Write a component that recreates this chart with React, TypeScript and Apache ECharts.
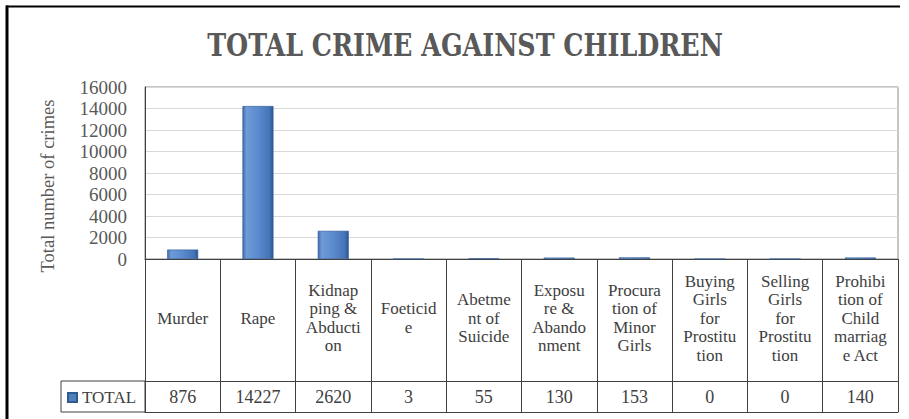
import React, { useEffect, useRef } from "react";
import * as echarts from "echarts";

const titleText = "TOTAL CRIME AGAINST CHILDREN";
const yAxisTitle = "Total number of crimes";
const seriesName = "TOTAL";
const categories = [
  "Murder",
  "Rape",
  "Kidnap\nping &\nAbducti\non",
  "Foeticid\ne",
  "Abetme\nnt of\nSuicide",
  "Exposu\nre &\nAbando\nnment",
  "Procura\ntion of\nMinor\nGirls",
  "Buying\nGirls\nfor\nProstitu\ntion",
  "Selling\nGirls\nfor\nProstitu\ntion",
  "Prohibi\ntion of\nChild\nmarriag\ne Act",
];
const totals = [876, 14227, 2620, 3, 55, 130, 153, 0, 0, 140];
const yMin = 0;
const yMax = 16000;
const yInterval = 2000;

const SERIF = "Liberation Serif";
const TITLE_FONT = "bold 31px 'DejaVu Serif Condensed'";

export default function App() {
  const ref = useRef<HTMLDivElement>(null);

  useEffect(() => {
    if (!ref.current) return;
    const chart = echarts.init(ref.current, undefined, { renderer: "svg" });

    let titleScale = 0.85;
    try {
      const ctx = document.createElement("canvas").getContext("2d");
      if (ctx) {
        ctx.font = TITLE_FONT;
        const w = ctx.measureText(titleText).width;
        if (w > 0) titleScale = 516 / w;
      }
    } catch (e) {}

    const barGradient = new echarts.graphic.LinearGradient(0, 0, 1, 0, [
      { offset: 0, color: "#3d6cab" },
      { offset: 0.12, color: "#6f9bd6" },
      { offset: 0.5, color: "#5b8bcf" },
      { offset: 0.88, color: "#4474b5" },
      { offset: 1, color: "#2b5690" },
    ]);

    chart.setOption({
      animation: false,
      backgroundColor: "#ffffff",
      textStyle: { fontFamily: SERIF },
      grid: {
        left: 145,
        right: 11,
        top: 87,
        bottom: 160,
        show: true,
        borderColor: "#8c8c8c",
        borderWidth: 1,
        containLabel: false,
      },
      legend: {
        data: [{ name: seriesName, itemStyle: { color: "#4f81bd" } }],
        left: 67,
        top: 389,
        icon: "rect",
        itemWidth: 9,
        itemHeight: 9,
        itemGap: 7,
        padding: 0,
        textStyle: { fontFamily: SERIF, fontSize: 17, color: "#404040" },
      },
      xAxis: [
        {
          type: "category",
          data: categories,
          position: "bottom",
          boundaryGap: true,
          axisLine: { show: true, lineStyle: { color: "#404040", width: 1 } },
          axisTick: { show: true, interval: 0, length: 153, lineStyle: { color: "#404040", width: 1 } },
          axisLabel: {
            interval: 0,
            margin: 59,
            verticalAlign: "middle",
            fontFamily: SERIF,
            fontSize: 17,
            lineHeight: 18.5,
            color: "#404040",
          },
          splitLine: { show: false },
        },
        {
          type: "category",
          data: categories,
          position: "bottom",
          offset: 122,
          boundaryGap: true,
          axisLine: { show: true, lineStyle: { color: "#404040", width: 1 } },
          axisTick: { show: false },
          axisLabel: {
            interval: 0,
            margin: 16,
            verticalAlign: "middle",
            fontFamily: SERIF,
            fontSize: 18,
            color: "#404040",
            formatter: (_v: string, idx: number) => String(totals[idx]),
          },
          splitLine: { show: false },
        },
        {
          type: "category",
          data: categories,
          position: "bottom",
          offset: 153,
          boundaryGap: true,
          axisLine: { show: true, lineStyle: { color: "#404040", width: 1 } },
          axisTick: { show: false },
          axisLabel: { show: false },
          splitLine: { show: false },
        },
      ],
      yAxis: {
        type: "value",
        min: yMin,
        max: yMax,
        interval: yInterval,
        axisLine: { show: true, lineStyle: { color: "#404040", width: 1 } },
        axisTick: { show: false },
        axisLabel: {
          margin: 18,
          fontFamily: SERIF,
          fontSize: 19,
          color: "#595959",
          formatter: (v: number) => String(v),
        },
        splitLine: { show: true, lineStyle: { color: "#d9d9d9", width: 1 } },
      },
      series: [
        {
          name: seriesName,
          type: "bar",
          xAxisIndex: 0,
          data: totals,
          barWidth: 31,
          itemStyle: {
            color: barGradient,
            borderColor: "#2f5b93",
            borderWidth: 0.6,
          },
        },
      ],
      graphic: [
        {
          type: "text",
          x: 465,
          y: 45,
          scaleX: titleScale,
          style: {
            text: titleText,
            x: 0,
            y: 0,
            align: "center",
            verticalAlign: "middle",
            font: TITLE_FONT,
            fill: "#595959",
          },
        },
        {
          type: "text",
          x: 48,
          y: 186,
          rotation: Math.PI / 2,
          style: {
            text: yAxisTitle,
            x: 0,
            y: 0,
            align: "center",
            verticalAlign: "middle",
            font: "18.5px 'Liberation Serif'",
            fill: "#595959",
          },
        },
        {
          type: "rect",
          shape: { x: 61, y: 381, width: 84, height: 31 },
          style: { fill: "none", stroke: "#404040", lineWidth: 1 },
        },
        {
          type: "line",
          shape: { x1: 6, y1: 6.5, x2: 900, y2: 6.5 },
          style: { stroke: "#000000", lineWidth: 2 },
        },
        {
          type: "line",
          shape: { x1: 7, y1: 5.5, x2: 7, y2: 419 },
          style: { stroke: "#000000", lineWidth: 3 },
        },
      ],
    });

    return () => chart.dispose();
  }, []);

  return (
    <div
      ref={ref}
      style={{ position: "fixed", left: 0, top: 0, width: 909, height: 419 }}
    />
  );
}
